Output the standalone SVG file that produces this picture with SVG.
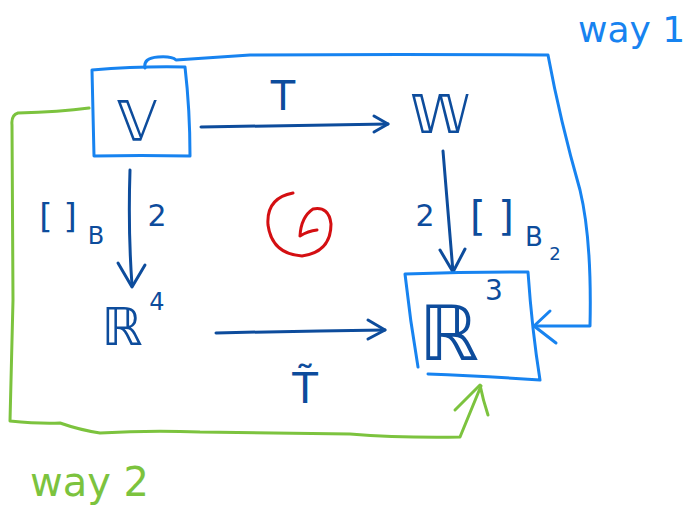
<svg xmlns="http://www.w3.org/2000/svg" width="688" height="528" viewBox="0 0 688 528">
<style>
.dk{fill:none;stroke:#0d4c9c;stroke-width:3;stroke-linecap:round;stroke-linejoin:round}
.bl{fill:none;stroke:#1783f0;stroke-width:3;stroke-linecap:round;stroke-linejoin:round}
.gr{fill:none;stroke:#7cc33e;stroke-width:3;stroke-linecap:round;stroke-linejoin:round}
.rd{fill:none;stroke:#d40f12;stroke-width:3;stroke-linecap:round;stroke-linejoin:round}
text{font-family:"DejaVu Sans","Liberation Sans",sans-serif}
.tdk{fill:#0d4c9c}
.tbl{fill:#1783f0}
.tgr{fill:#7cc33e}
</style>
<g id="connectors">
  <path class="dk" d="M201,127 L388,124"/>
  <path class="dk" d="M374,116 L388,124 L374,132"/>
  <path class="dk" d="M130,170 Q128,230 132,285"/>
  <path class="dk" d="M118,263 L132,287 L145,265"/>
  <path class="dk" d="M443,151 Q448,210 453,272"/>
  <path class="dk" d="M440,250 L453,272 L465,249"/>
  <path class="dk" d="M216,333 Q300,331 385,330"/>
  <path class="dk" d="M368,320 L385,330 L368,339"/>
  <path class="bl" d="M145,68 Q143,58 158,57 Q172,56 176,60 L250,55 Q400,54 548,55 Q560,120 580,190 Q592,240 590,326 L535,326"/>
  <path class="bl" d="M550,311 L534,326 L556,343"/>
  <path class="gr" d="M89,108 Q60,112 18,113 Q11,115 12,125 L13,300 L10,421 Q40,424 60,423 Q80,430 100,433 Q150,430 200,432 L350,434 Q400,438 460,437 L481,386"/>
  <path class="gr" d="M455,410 Q470,395 480,385 Q483,400 488,415"/>
  <path class="rd" d="M293,193 Q266,198 268,225 Q272,254 302,256 Q331,252 331,224 Q329,206 313,209 Q301,217 300,236 M300,236 Q308,231 317,230"/>
</g>
<g id="V">
  <path class="bl" d="M92,70 Q140,66 185,67 Q190,110 190,156 Q140,155 94,156 Q93,110 92,70 Z"/>
  <text x="137" y="140" font-size="56" text-anchor="middle" class="tdk">𝕍</text>
</g>
<g id="W">
  <text x="440" y="133" font-size="54" text-anchor="middle" class="tdk">𝕎</text>
</g>
<g id="R4">
  <text x="122" y="345" font-size="52" text-anchor="middle" class="tdk">ℝ</text>
  <text x="157" y="310" font-size="24" text-anchor="middle" class="tdk">4</text>
</g>
<g id="R3">
  <path class="bl" d="M405,274 Q470,272 528,272 Q532,330 540,380 Q480,376 428,374 M418,367 Q410,320 405,274"/>
  <text x="449" y="360" font-size="76" text-anchor="middle" class="tdk">ℝ</text>
  <text x="494" y="300" font-size="28" text-anchor="middle" class="tdk">3</text>
</g>
<g id="labels">
  <text x="283" y="110" font-size="40" text-anchor="middle" class="tdk">T</text>
  <text x="305" y="403" font-size="42" text-anchor="middle" class="tdk">T̃</text>
  <text x="58" y="228" font-size="34" text-anchor="middle" class="tdk">[ ]</text>
  <text x="96" y="244" font-size="24" text-anchor="middle" class="tdk">B</text>
  <text x="157" y="226" font-size="30" text-anchor="middle" class="tdk">2</text>
  <text x="425" y="226" font-size="30" text-anchor="middle" class="tdk">2</text>
  <text x="492" y="230" font-size="40" text-anchor="middle" class="tdk">[ ]</text>
  <text x="534" y="246" font-size="26" text-anchor="middle" class="tdk">B</text>
  <text x="555" y="260" font-size="18" text-anchor="middle" class="tdk">2</text>
  <text x="578" y="42" font-size="36" class="tbl">way 1</text>
  <text x="30" y="496" font-size="40" class="tgr">way 2</text>
</g>
</svg>
